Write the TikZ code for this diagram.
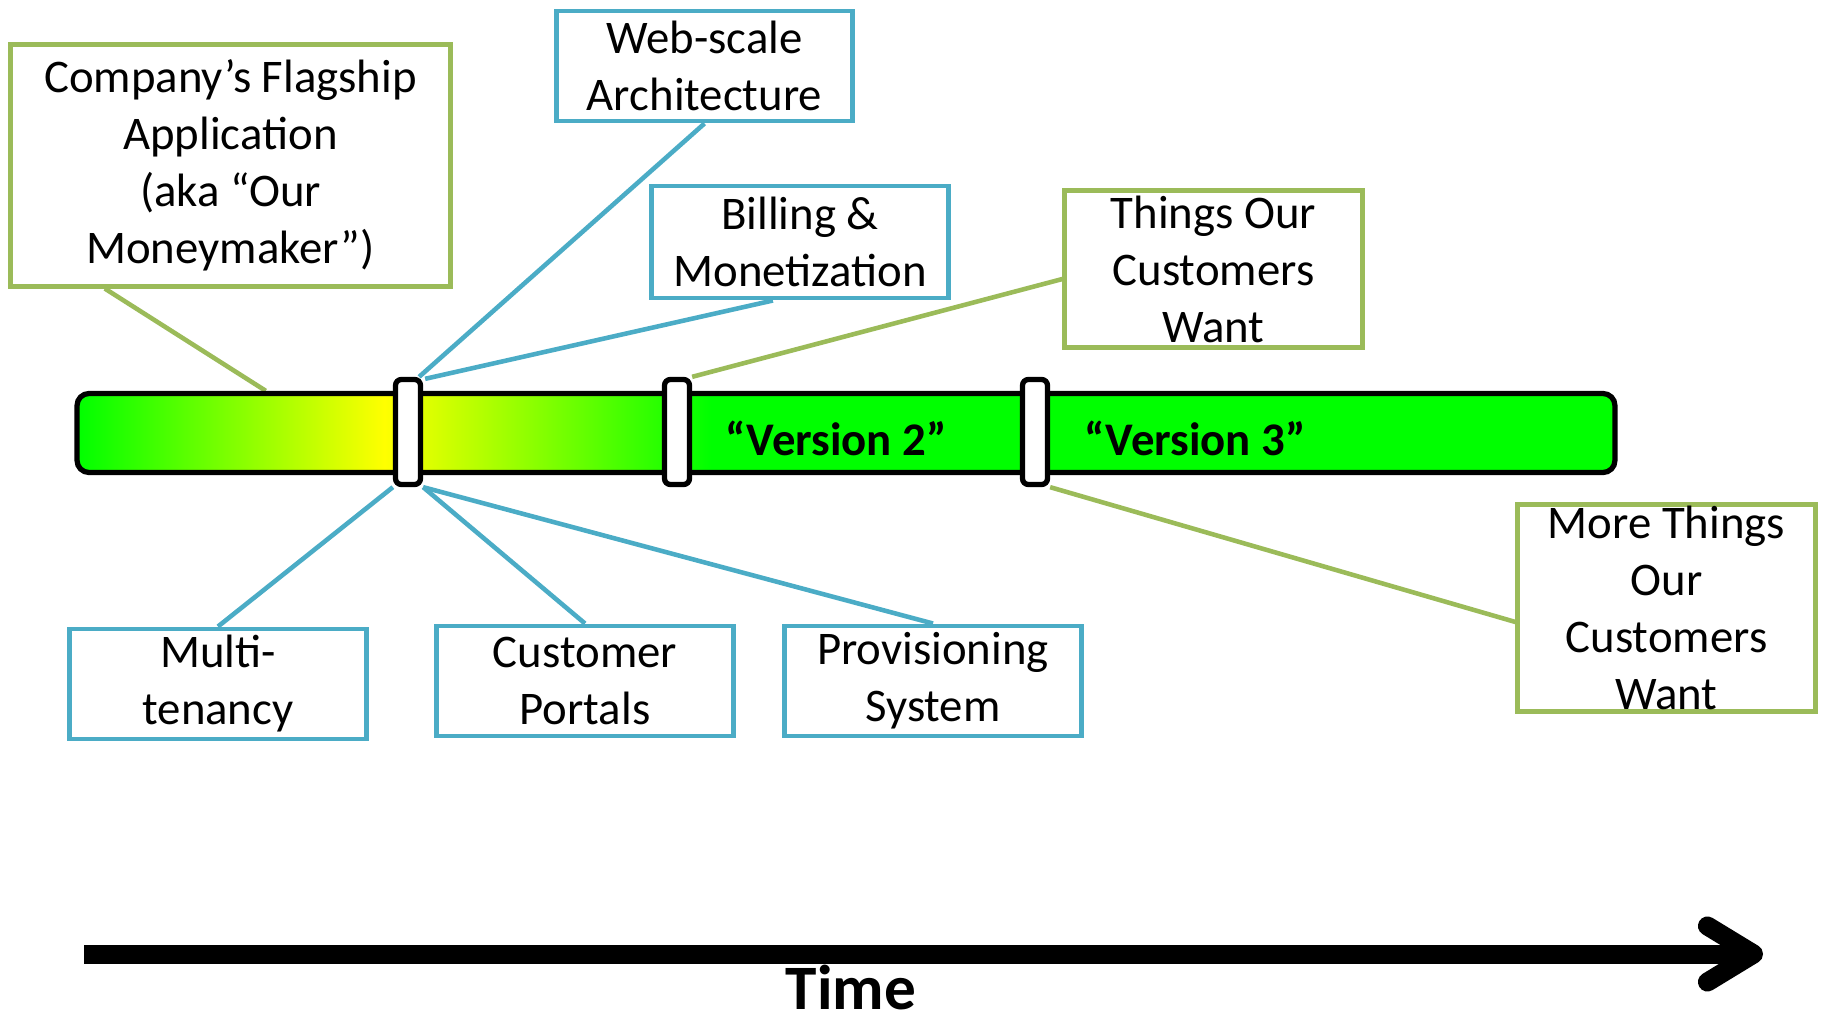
\documentclass[tikz,border=0pt]{standalone}
\usepackage{fontspec}
\setmainfont{Carlito}
\usetikzlibrary{arrows.meta,calc,backgrounds}
\definecolor{boxgreen}{RGB}{155,187,89}
\definecolor{boxblue}{RGB}{75,172,198}
\definecolor{bargreen}{RGB}{0,255,0}
\pgfdeclarehorizontalshading{barshade}{100bp}{color(0bp)=(bargreen); color(25bp)=(bargreen); color(35bp)=(yellow); color(45.6bp)=(bargreen); color(100bp)=(bargreen)}
\begin{document}
\begin{tikzpicture}[x=0.01cm,y=-0.01cm]
\tikzstyle{every node}=[font=\fontsize{13.3pt}{16.2pt}\selectfont]
  \tikzstyle{gbox}=[rectangle,draw=boxgreen,line width=1.4pt,fill=white,align=center,inner sep=0pt]
  \tikzstyle{bbox}=[rectangle,draw=boxblue,line width=1.4pt,fill=white,align=center,inner sep=0pt,minimum width=2.96cm,minimum height=1.10cm]
  \tikzstyle{glink}=[draw=boxgreen,line width=1.3pt]
  \tikzstyle{blink}=[draw=boxblue,line width=1.3pt]
  \tikzstyle{bar}=[rectangle,rounded corners=0.12cm,draw=black,line width=1.5pt,shade,shading=barshade,minimum width=15.37cm,minimum height=0.79cm,inner sep=0pt]
  \tikzstyle{marker}=[rectangle,rounded corners=0.06cm,draw=black,fill=white,line width=1.5pt,minimum width=0.25cm,minimum height=1.05cm,inner sep=0pt]
  \tikzstyle{version}=[font=\fontsize{13.3pt}{16.2pt}\selectfont\bfseries]
  \tikzstyle{timeline}=[line width=0.19cm,-{Straight Barb[length=4.6mm,width=5.6mm,round]}]

  \useasboundingbox (0,0) rectangle (1826,1021);

  \node[bar] (bar) at (846,433) {};
  \node[marker] (m1) at (408,432) {};
  \node[marker] (m2) at (677,432) {};
  \node[marker] (m3) at (1035,432) {};
  \node[version] (ver2) at (836,438) {“Version 2”};
  \node[version] (ver3) at (1195,438) {“Version 3”};

  \node[gbox,minimum width=4.39cm,minimum height=2.41cm] (flag) at (230.5,165.5) {Company’s Flagship\\Application\\(aka “Our\\Moneymaker”)};
  \node[bbox] (web) at (704.5,66) {Web-scale\\Architecture};
  \node[bbox,minimum height=1.12cm] (bill) at (800,242) {Billing \&\\Monetization};
  \node[gbox,minimum width=2.97cm,minimum height=1.56cm] (want) at (1213.5,269) {Things Our\\Customers\\Want};
  \node[gbox,minimum width=2.97cm,minimum height=2.06cm] (more) at (1666.5,608) {More Things\\Our\\Customers\\Want};
  \node[bbox] (multi) at (218,684) {Multi-\\tenancy};
  \node[bbox] (portal) at (585,681) {Customer\\Portals};
  \node[bbox] (prov) at (933,681) {Provisioning\\System};

  \begin{scope}[on background layer]
    \draw[glink] ($(flag.south west)!0.217!(flag.south east)$) -- ($(bar.north west)!0.124!(bar.north east)$);
    \draw[blink] (web.south) -- ($(m1.north east)+(-4,0)$);
    \draw[blink] ($(bill.south west)!0.41!(bill.south east)$) -- ($(m1.north east)+(2,2)$);
    \draw[glink] ($(want.west)+(0,10)$) -- (m2.north east);
    \draw[glink] ($(more.west)+(0,14)$) -- (m3.south east);
    \draw[blink] (multi.north) -- (m1.south west);
    \draw[blink] (portal.north) -- (m1.south east);
    \draw[blink] (prov.north) -- (m1.south east);
  \end{scope}

  \coordinate (tstart) at (84,954);
  \coordinate (tend) at (1763,954);
  \draw[timeline] (tstart) -- (tend);
  \node[font=\fontsize{18pt}{21pt}\selectfont\bfseries] (time) at (851,988) {Time};
\end{tikzpicture}
\end{document}
